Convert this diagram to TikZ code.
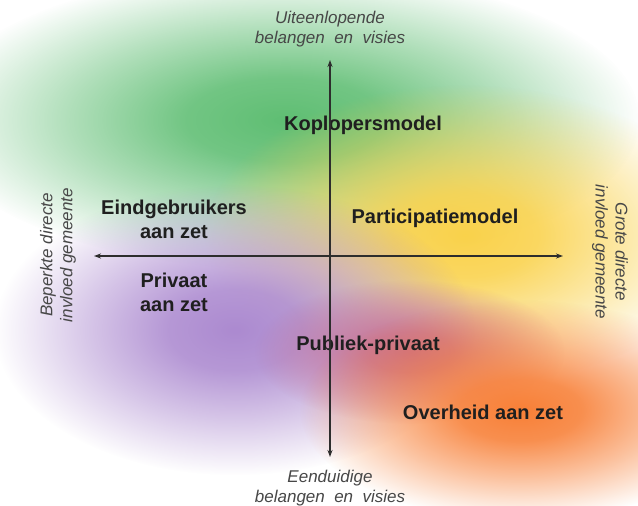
\documentclass[tikz,border=0pt]{standalone}
\usepackage{fontspec}
\setmainfont{Liberation Sans}
\usetikzlibrary{arrows.meta,fadings}

\pgfdeclareradialshading{blobshading}{\pgfpointorigin}{color(0bp)=(white); color(7bp)=(white!88!black); color(15bp)=(white!50!black); color(25bp)=(black); color(50bp)=(black)}
\pgfdeclarefading{softblob}{\pgfuseshading{blobshading}}

\definecolor{axisgray}{RGB}{45,45,45}
\definecolor{blobgreen}{RGB}{95,190,115}
\definecolor{blobyellow}{RGB}{250,210,75}
\definecolor{blobpurple}{RGB}{172,138,208}
\definecolor{blobmauve}{RGB}{198,112,148}
\definecolor{bloborange}{RGB}{248,128,55}

\begin{document}
\begin{tikzpicture}[
    x=1pt, y=-1pt,
    >={Stealth[length=7pt,width=5pt]},
    axis/.style={draw=axisgray, line width=1.4pt},
    quadrant/.style={font=\fontsize{20}{24}\selectfont\bfseries, text=black!88, align=center},
    pole/.style={font=\fontsize{17}{20}\selectfont\itshape, text=black!72, align=center}
]
\useasboundingbox (0,0) rectangle (638,506);
\fill[white] (0,0) rectangle (638,506);

% coloured clouds
\fill[blobgreen, path fading=softblob] (285,120) ellipse (355 and 150);
\fill[blobyellow, path fading=softblob] (465,235) ellipse (260 and 150);
\fill[blobpurple, path fading=softblob] (235,330) ellipse (240 and 145);
\fill[blobmauve, path fading=softblob] (410,352) ellipse (155 and 72);
\fill[bloborange, path fading=softblob] (520,410) ellipse (220 and 110);

% quadrants
\node[quadrant] (kop)  at (363,125) {Koplopersmodel};
\node[quadrant] (eind) at (174,219) {Eindgebruikers\\aan zet};
\node[quadrant] (part) at (435,218) {Participatiemodel};
\node[quadrant] (priv) at (174,292) {Privaat\\aan zet};
\node[quadrant] (pub)  at (368,345) {Publiek-privaat};
\node[quadrant] (over) at (483,412) {Overheid aan zet};

% poles
\node[pole] (up)   at (330,29)  {Uiteenlopende\\belangen\hspace{0.55em}en\hspace{0.55em}visies};
\node[pole] (down) at (330,488) {Eenduidige\\belangen\hspace{0.55em}en\hspace{0.55em}visies};
\node[pole, rotate=90]  (less) at (58,255)  {Beperkte directe\\invloed gemeente};
\node[pole, rotate=-90] (more) at (610,252) {Grote directe\\invloed gemeente};

\coordinate (top)    at (330,60);
\coordinate (bottom) at (330,457);
\coordinate (left)   at (94,256);
\coordinate (right)  at (563,256);

\draw[axis, <->] (left) -- (right);
\draw[axis, <->] (bottom) -- (top);

\end{tikzpicture}
\end{document}
